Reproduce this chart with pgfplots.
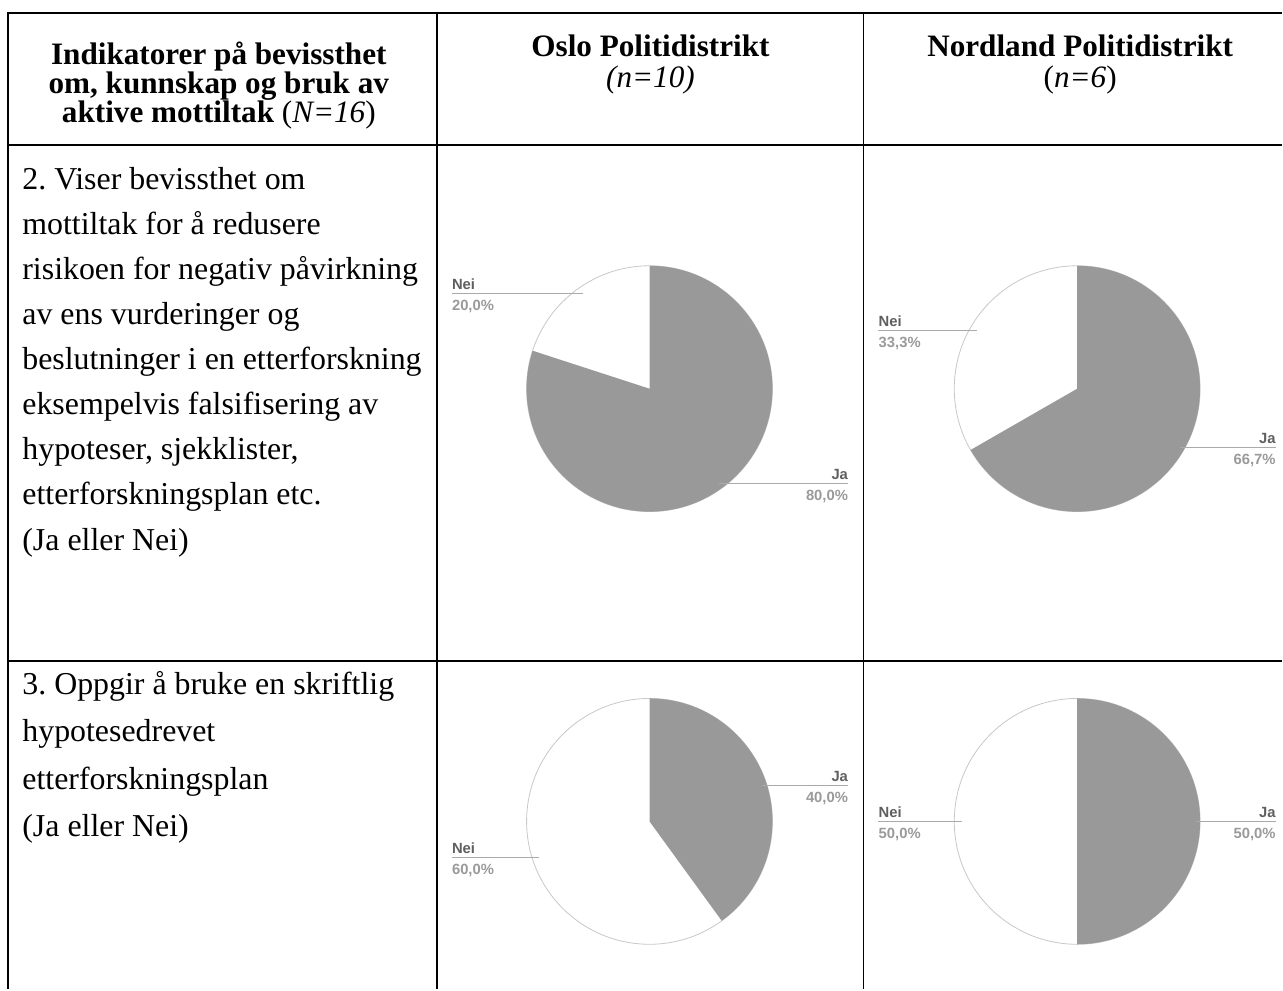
\documentclass[border=0pt]{standalone}
\usepackage{pgfplots}
\pgfplotsset{compat=1.18}
\usepackage{fontspec}
\setmainfont{Liberation Serif}
\newfontfamily\labfont{Liberation Sans}
\frenchspacing
\definecolor{piegray}{HTML}{999999}
\definecolor{rimgray}{HTML}{C8C8C8}
\definecolor{leadgray}{HTML}{AAAAAA}
\definecolor{namegray}{HTML}{5F5F5F}
\definecolor{pctgray}{HTML}{9A9A9A}

% pie: #1 = centre coordinate name, #2 = Ja percent
\newcommand{\pie}[2]{%
\begin{axis}[at={(#1)}, anchor=center, x=0.5pt, y=0.5pt, hide axis,
  xmin=-140, xmax=140, ymin=-140, ymax=140, clip=false]
  \pgfmathsetmacro{\endang}{90-3.6*#2}
  \fill[white] (axis cs:0,0) -- (axis cs:0,123) arc[start angle=90, end angle=-270, radius=61.5pt] -- cycle;
  \draw[rimgray, line width=0.4pt] (axis cs:0,123) arc[start angle=90, end angle=-270, radius=61.5pt];
  \fill[piegray] (axis cs:0,0) -- (axis cs:0,123) arc[start angle=90, end angle=\endang, radius=61.5pt] -- cycle;
\end{axis}}

\newcommand{\labfs}{\labfont\fontsize{7.4pt}{8pt}\selectfont\bfseries}
% label: x0 x1 y name pct
\newcommand{\leftlab}[5]{%
  \draw[leadgray, line width=0.5pt] (#1,#3) -- (#2,#3);
  \node[anchor=base west, inner sep=0pt, text=namegray] at (#1,#3-4) {\labfs #4};
  \node[anchor=base west, inner sep=0pt, text=pctgray] at (#1,#3+17) {\labfs #5};}
\newcommand{\rightlab}[5]{%
  \draw[leadgray, line width=0.5pt] (#1,#3) -- (#2,#3);
  \node[anchor=base east, inner sep=0pt, text=namegray] at (#2,#3-4) {\labfs #4};
  \node[anchor=base east, inner sep=0pt, text=pctgray] at (#2,#3+17) {\labfs #5};}

\begin{document}
\begin{tikzpicture}[x=0.5pt, y=-0.5pt]
\path (0,0) rectangle (1283,990);
% table rules
\draw[line width=1pt] (8,990) -- (8,13) -- (1283,13);
\draw[line width=1pt] (8,145) -- (1283,145);
\draw[line width=1pt] (8,662) -- (1283,662);
\draw[line width=1pt] (437,13) -- (437,990);
\draw[line width=0.5pt] (864,13) -- (864,990);

% header
\begin{scope}[every node/.style={anchor=base, inner sep=0pt}]
\node at (219,65) {\fontsize{15.6pt}{16pt}\selectfont\bfseries Indikatorer på bevissthet};
\node at (219,94) {\fontsize{15.6pt}{16pt}\selectfont\bfseries om, kunnskap og bruk av};
\node at (219,123) {\fontsize{15.6pt}{16pt}\selectfont\bfseries aktive mottiltak \mdseries(\textit{N=16})};
\node at (651,57) {\fontsize{15.6pt}{16pt}\selectfont\bfseries Oslo Politidistrikt};
\node at (651,88) {\fontsize{15.6pt}{16pt}\selectfont\itshape (n=10)};
\node at (1081,57) {\fontsize{15.6pt}{16pt}\selectfont\bfseries Nordland Politidistrikt};
\node at (1081,88) {\fontsize{15.6pt}{16pt}\selectfont (\textit{n=6})};
\end{scope}

% body text
\begin{scope}[every node/.style={anchor=base west, inner sep=0pt, font=\fontsize{15.95pt}{18pt}\selectfont}]
\node at (22,190) {2. Viser bevissthet om};
\node at (22,235) {mottiltak for å redusere};
\node at (22,280) {risikoen for negativ påvirkning};
\node at (22,325) {av ens vurderinger og};
\node at (22,370) {beslutninger i en etterforskning};
\node at (22,415) {eksempelvis falsifisering av};
\node at (22,460) {hypoteser, sjekklister,};
\node at (22,505) {etterforskningsplan etc.};
\node at (22,551) {(Ja eller Nei)};
\node at (22,695) {3. Oppgir å bruke en skriftlig};
\node at (22,742) {hypotesedrevet};
\node at (22,790) {etterforskningsplan};
\node at (22,837) {(Ja eller Nei)};
\end{scope}

% pies
\coordinate (p1) at (650,389);
\coordinate (p2) at (1078,389);
\coordinate (p3) at (650,822);
\coordinate (p4) at (1078,822);
\pie{p1}{80}
\pie{p2}{66.7}
\pie{p3}{40}
\pie{p4}{50}

% labels
\leftlab{452}{583}{294}{Nei}{20,0\%}
\rightlab{720}{849}{484}{Ja}{80,0\%}
\leftlab{879}{978}{331}{Nei}{33,3\%}
\rightlab{1181}{1277}{448}{Ja}{66,7\%}
\rightlab{763}{849}{786}{Ja}{40,0\%}
\leftlab{452}{539}{858}{Nei}{60,0\%}
\leftlab{879}{963}{822}{Nei}{50,0\%}
\rightlab{1197}{1277}{822}{Ja}{50,0\%}
\end{tikzpicture}
\end{document}
